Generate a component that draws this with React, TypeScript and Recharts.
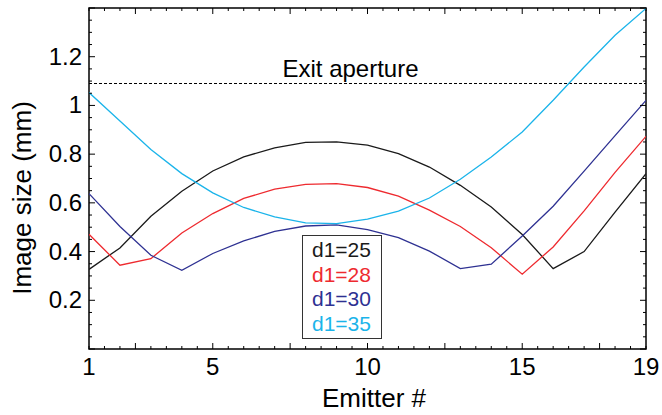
import React from "react";
import { LineChart, Line, XAxis, YAxis, ReferenceLine, ReferenceArea, Legend } from "recharts";

// Image size vs emitter index for four d1 settings
const emitters = [1, 2, 3, 4, 5, 6, 7, 8, 9, 10, 11, 12, 13, 14, 15, 16, 17, 18, 19];
const d1_25 = [0.327, 0.415, 0.545, 0.648, 0.731, 0.789, 0.826, 0.848, 0.85, 0.837, 0.802, 0.747, 0.672, 0.583, 0.47, 0.33, 0.4, 0.562, 0.72];
const d1_28 = [0.471, 0.344, 0.371, 0.476, 0.556, 0.618, 0.656, 0.676, 0.679, 0.663, 0.628, 0.57, 0.503, 0.416, 0.307, 0.419, 0.567, 0.725, 0.873];
const d1_30 = [0.638, 0.503, 0.385, 0.323, 0.392, 0.444, 0.483, 0.505, 0.51, 0.49, 0.457, 0.402, 0.33, 0.348, 0.464, 0.586, 0.73, 0.876, 1.021];
const d1_35 = [1.053, 0.936, 0.819, 0.72, 0.641, 0.581, 0.542, 0.518, 0.515, 0.533, 0.566, 0.62, 0.697, 0.788, 0.891, 1.021, 1.158, 1.288, 1.398];
const exitAperture = 1.09;

const xTickLabels = [1, 5, 10, 15, 19];
const yTickLabels = [0.2, 0.4, 0.6, 0.8, 1, 1.2];
const xTicks = Array.from({ length: 37 }, (_, i) => 1 + i * 0.5);
const yTicks = Array.from({ length: 29 }, (_, i) => Math.round(i * 5) / 100);

const FONT = "'Liberation Sans', Arial, Helvetica, sans-serif";
const PLOT = { left: 89, right: 646, top: 8, bottom: 349 };

const data = emitters.map((e, i) => ({
  emitter: e,
  d25: d1_25[i],
  d28: d1_28[i],
  d30: d1_30[i],
  d35: d1_35[i],
}));

const isOn = (v: number, step: number) => Math.abs(v / step - Math.round(v / step)) < 1e-6;

function XTick(props: any) {
  const { x, payload } = props;
  const v = payload.value;
  const len = isOn(v, 2.5) ? 6 : 3;
  return (
    <g>
      <line x1={x} x2={x} y1={PLOT.bottom} y2={PLOT.bottom - len} stroke="#000" strokeWidth={1} />
      <line x1={x} x2={x} y1={PLOT.top} y2={PLOT.top + len} stroke="#000" strokeWidth={1} />
      {xTickLabels.includes(v) && (
        <text x={x} y={PLOT.bottom + 26} textAnchor="middle" fontSize={24} fontFamily={FONT} fill="#000">
          {v}
        </text>
      )}
    </g>
  );
}

function YTick(props: any) {
  const { y, payload } = props;
  const v = payload.value;
  const len = isOn(v, 0.2) ? 6 : 3;
  const labelled = yTickLabels.some((t) => Math.abs(t - v) < 1e-6);
  return (
    <g>
      <line x1={PLOT.left} x2={PLOT.left + len} y1={y} y2={y} stroke="#000" strokeWidth={1} />
      <line x1={PLOT.right} x2={PLOT.right - len} y1={y} y2={y} stroke="#000" strokeWidth={1} />
      {labelled && (
        <text x={PLOT.left - 7} y={y + 8} textAnchor="end" fontSize={24} fontFamily={FONT} fill="#000">
          {String(Math.round(v * 10) / 10)}
        </text>
      )}
    </g>
  );
}

function LegendBox(props: any) {
  const { payload } = props;
  return (
    <div
      style={{
        border: "1.5px solid #333",
        background: "#fff",
        boxSizing: "border-box",
        width: 80,
        height: 104,
        padding: "2px 0 0 9px",
        fontFamily: FONT,
        fontSize: 21,
        lineHeight: "24.7px",
      }}
    >
      {(payload || []).map((p: any) => (
        <div key={p.value} style={{ color: p.color, whiteSpace: "nowrap" }}>
          {p.value}
        </div>
      ))}
    </div>
  );
}

export default function App() {
  return (
    <div style={{ position: "absolute", left: 0, top: 0, background: "#fff" }}>
      <LineChart width={662} height={415} data={data} margin={{ top: 8, right: 16, bottom: 0, left: 0 }}>
        <XAxis
          dataKey="emitter"
          type="number"
          domain={[1, 19]}
          ticks={xTicks}
          interval={0}
          allowDataOverflow
          height={66}
          axisLine={false}
          tickLine={false}
          tickSize={0}
          tickMargin={0}
          tick={XTick}
          label={{
            content: () => (
              <text x={374} y={407} textAnchor="middle" fontSize={26} fontFamily={FONT} fill="#000">
                Emitter #
              </text>
            ),
          }}
        />
        <YAxis
          type="number"
          domain={[0, 1.4]}
          ticks={yTicks}
          interval={0}
          allowDataOverflow
          width={89}
          axisLine={false}
          tickLine={false}
          tickSize={0}
          tickMargin={0}
          tick={YTick}
          label={{
            content: () => (
              <text
                x={22}
                y={198}
                transform="rotate(-90, 22, 198)"
                textAnchor="middle"
                dominantBaseline="central"
                fontSize={26}
                fontFamily={FONT}
                fill="#000"
              >
                Image size (mm)
              </text>
            ),
          }}
        />
        <ReferenceLine
          y={exitAperture}
          stroke="#000"
          strokeWidth={1.2}
          strokeDasharray="3 2"
          label={{
            content: (p: any) => (
              <text
                x={p.viewBox.x + p.viewBox.width / 2 - 17}
                y={p.viewBox.y - 7}
                textAnchor="middle"
                fontSize={24}
                fontFamily={FONT}
                fill="#000"
              >
                Exit aperture
              </text>
            ),
          }}
        />
        <Line type="linear" dataKey="d25" name="d1=25" stroke="#1a1a1a" strokeWidth={1.3} dot={false} isAnimationActive={false} />
        <Line type="linear" dataKey="d28" name="d1=28" stroke="#ee2a2f" strokeWidth={1.3} dot={false} isAnimationActive={false} />
        <Line type="linear" dataKey="d30" name="d1=30" stroke="#2e3192" strokeWidth={1.3} dot={false} isAnimationActive={false} />
        <Line type="linear" dataKey="d35" name="d1=35" stroke="#1bb4ea" strokeWidth={1.3} dot={false} isAnimationActive={false} />
        <ReferenceArea x1={1} x2={19} y1={0} y2={1.4} fill="none" stroke="#000" strokeWidth={1.5} ifOverflow="visible" />
        <Legend
          layout="vertical"
          align="center"
          verticalAlign="middle"
          content={LegendBox}
          wrapperStyle={{ left: 302, top: 235, width: 80, height: 104 }}
        />
      </LineChart>
    </div>
  );
}
